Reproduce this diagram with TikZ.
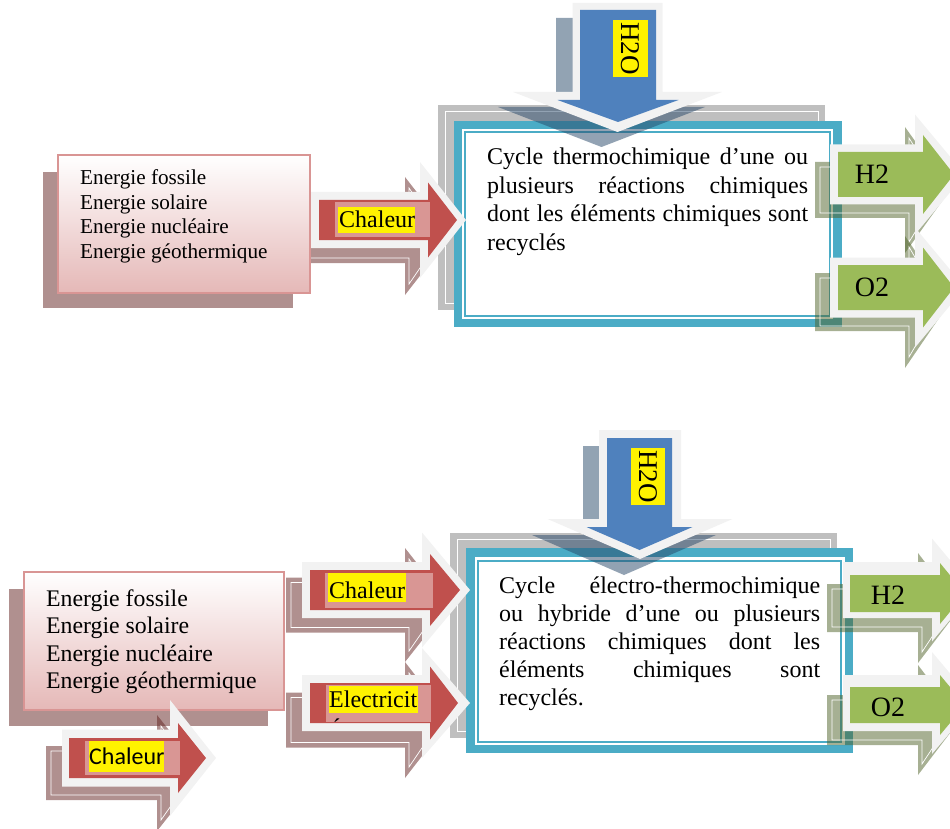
\documentclass[tikz,border=0pt]{standalone}
\usepackage{fontspec}
\setmainfont{Liberation Serif}
\newfontfamily\calib{Carlito}
\definecolor{redA}{HTML}{C0504D}
\definecolor{pinkA}{HTML}{D99694}
\definecolor{outlc}{HTML}{F2F2F2}
\definecolor{shRed}{RGB}{97,33,31}
\definecolor{boxsh}{RGB}{176,144,143}
\definecolor{boxbd}{HTML}{D99594}
\definecolor{boxbot}{HTML}{E5B8B7}
\definecolor{blueA}{HTML}{4F81BD}
\definecolor{shBlue}{RGB}{38,71,104}
\definecolor{tealA}{HTML}{4BACC6}
\definecolor{grayback}{HTML}{BFBFBF}
\definecolor{greenA}{HTML}{9BBB59}
\definecolor{shGreen}{RGB}{79,98,40}
% right arrow: style, x0, xhead, xtip, ycenter, body half, head half
\newcommand\RArr[7]{\path[#1] ({#2},{#5-(#6)}) -- ({#3},{#5-(#6)}) -- ({#3},{#5-(#7)}) -- ({#4},{#5}) -- ({#3},{#5+(#7)}) -- ({#3},{#5+(#6)}) -- ({#2},{#5+(#6)}) -- cycle;}
\newcommand\ShR[7]{\RArr{#1}{#2}{#3}{#4}{#5}{#6}{#7}\RArr{draw=white,line width=0.7pt}{#2+5}{#3+4}{#4-9}{#5}{#6-5}{#7-11}}
% down arrow: style, y0, yhead, ytip, xcenter, body half, head half
\newcommand\DArr[7]{\path[#1] ({#5-(#6)},{#2}) -- ({#5-(#6)},{#3}) -- ({#5-(#7)},{#3}) -- ({#5},{#4}) -- ({#5+(#7)},{#3}) -- ({#5+(#6)},{#3}) -- ({#5+(#6)},{#2}) -- cycle;}
\tikzset{
  redsh/.style={fill=shRed,fill opacity=.5},
  blsh/.style={fill=shBlue,fill opacity=.5},
  grsh/.style={fill=shGreen,fill opacity=.5},
  outl/.style={fill=outlc},
  redar/.style={fill=redA},
  bluear/.style={fill=blueA},
  grar/.style={fill=greenA},
  txt/.style={anchor=base west,inner sep=0},
  lbl/.style={inner sep=0,font=\fontsize{28}{32}\selectfont},
  vlbl/.style={inner sep=0,rotate=-90,font=\fontsize{27}{30}\selectfont},
}
\begin{document}
\begin{tikzpicture}[x=1pt,y=-1pt,line join=miter,font=\fontsize{24}{28}\selectfont]
\useasboundingbox (0,0) rectangle (950,829);
%================ TOP =================
\ShR{redsh}{300}{405}{451}{236}{27}{59}
\fill[boxsh] (43,172) rectangle (293,308);
\shade[top color=white,bottom color=boxbot] (58,155) rectangle (310,293);
\draw[boxbd,line width=2.2pt] (58,155) rectangle (310,293);
\foreach \t/\yy [count=\i] in {Energie fossile/185,Energie solaire/209.3,Energie nucléaire/233.6,Energie géothermique/258}
  \node[txt,font=\fontsize{21.2}{24}\selectfont] (tl\i) at (80,\yy) {\t};
% centre box
\fill[grayback] (438,105) rectangle (825,310);
\draw[white,line width=1pt] (445,112) rectangle (818,303);
\fill[tealA] (454,121) rectangle (842,327);
\fill[white] (462,129) rectangle (833,319);
\draw[tealA,line width=2.2pt] (465,132) rectangle (830,316);
\node[txt] (ct1) at (487,165) {\makebox[321pt][s]{Cycle thermochimique d’une ou}};
\node[txt] (ct2) at (487,193.3) {\makebox[321pt][s]{plusieurs réactions chimiques}};
\node[txt] (ct3) at (487,221.6) {\makebox[321pt][s]{dont les éléments chimiques sont}};
\node[txt] (ct4) at (487,250) {recyclés};
% H2O
\DArr{blsh}{18}{107}{147}{601.5}{45.5}{103.5}
\DArr{outl}{3}{92}{132}{617.5}{45}{104.5}
\DArr{bluear}{10}{100}{122}{618}{38}{60.5}
\fill[yellow] (613,20) rectangle (648,77);
\node[vlbl] (h2oT) at (630.5,48.5) {H2O};
% Chaleur
\RArr{outl}{311}{420}{466}{220}{28}{58}
\RArr{redar}{319}{428}{457}{220}{20}{37.5}
\fill[pinkA] (335,202) rectangle (430,237);
\fill[yellow] (338,207) rectangle (415,233);
\node[txt] (chT) at (339,227) {Chaleur};
% H2 / O2
\ShR{grsh}{815}{905}{950}{190}{28}{63}
\RArr{outl}{830}{915}{965}{174.5}{30}{60}
\RArr{grar}{838}{923}{954}{174.5}{22.5}{39.5}
\node[lbl] (h2T) at (872,174) {H2};
\ShR{grsh}{815}{905}{950}{302}{29}{66}
\RArr{outl}{830}{915}{965}{287.5}{30}{60}
\RArr{grar}{838}{923}{954}{287.5}{22.5}{40}
\node[lbl] (o2T) at (872,287) {O2};
%================ BOTTOM =================
\ShR{redsh}{286}{405}{450}{605}{27.5}{57}
\ShR{redsh}{286}{405}{450}{720}{27.5}{58}
\fill[boxsh] (9,589) rectangle (268,726);
\shade[top color=white,bottom color=boxbot] (24,572) rectangle (284,710);
\draw[boxbd,line width=2.2pt] (24,572) rectangle (284,710);
\foreach \t/\yy [count=\i] in {Energie fossile/606,Energie solaire/633.5,Energie nucléaire/661,Energie géothermique/688.5}
  \node[txt,font=\fontsize{23.8}{27.5}\selectfont] (bl\i) at (46,\yy) {\t};
% small Chaleur arrow
\ShR{redsh}{46}{157}{203}{773}{27}{58}
\RArr{outl}{62}{170}{216}{758}{28.5}{58}
\RArr{redar}{69}{178}{206}{758}{20}{35}
\fill[pinkA] (85,741) rectangle (180,775);
\fill[yellow] (89,741) rectangle (164,772);
\node[txt,font=\calib\fontsize{24}{28}\selectfont] (chS) at (89,764) {Chaleur};
% centre box
\fill[grayback] (450,533) rectangle (837,738);
\draw[white,line width=1pt] (457,539) rectangle (830,731);
\fill[tealA] (466,548) rectangle (853,753);
\fill[white] (475,557) rectangle (845,745);
\draw[tealA,line width=2.2pt] (478,561) rectangle (841,742);
\node[txt] (cb1) at (499,593) {\makebox[321pt][s]{Cycle électro-thermochimique}};
\node[txt] (cb2) at (499,621) {\makebox[321pt][s]{ou hybride d’une ou plusieurs}};
\node[txt] (cb3) at (499,649) {\makebox[321pt][s]{réactions chimiques dont les}};
\node[txt] (cb4) at (499,677) {\makebox[321pt][s]{éléments chimiques sont}};
\node[txt] (cb5) at (499,705) {recyclés.};
% H2O
\DArr{blsh}{446}{535}{575}{624}{41}{92}
\DArr{outl}{430}{519}{559}{640}{41}{92.5}
\DArr{bluear}{438}{527}{550}{639.5}{32.5}{53}
\fill[yellow] (631,448) rectangle (665,505);
\node[vlbl] (h2oB) at (648,476.5) {H2O};
% Chaleur
\RArr{outl}{302}{422}{470}{590}{28}{57.5}
\RArr{redar}{310}{430}{460}{590}{20}{36}
\fill[pinkA] (325,573) rectangle (433,608);
\fill[yellow] (328,573) rectangle (406,602);
\node[txt] (chB) at (329,598) {Chaleur};
% Electricite
\RArr{outl}{302}{422}{470}{703}{28}{55}
\RArr{redar}{310}{430}{458}{703}{20}{36.5}
\fill[pinkA] (326,685) rectangle (431,722);
\fill[yellow] (329,686) rectangle (418,713);
\node[txt] (elB) at (329,707) {Electricit};
\begin{scope}
\clip (326,685) rectangle (431,722);
\node[txt] (elE) at (330,735) {é};
\end{scope}
% H2 / O2
\ShR{grsh}{827}{918}{960}{608}{24}{55}
\RArr{outl}{843}{932}{975}{590}{28}{51.5}
\RArr{grar}{850}{940}{965}{593.5}{18.5}{30.5}
\node[lbl] (h2B) at (888,595) {H2};
\ShR{grsh}{827}{918}{960}{720}{25}{55}
\RArr{outl}{843}{932}{975}{703}{28}{51}
\RArr{grar}{850}{940}{965}{705}{18}{30}
\node[lbl] (o2B) at (888,707) {O2};
\end{tikzpicture}
\end{document}
